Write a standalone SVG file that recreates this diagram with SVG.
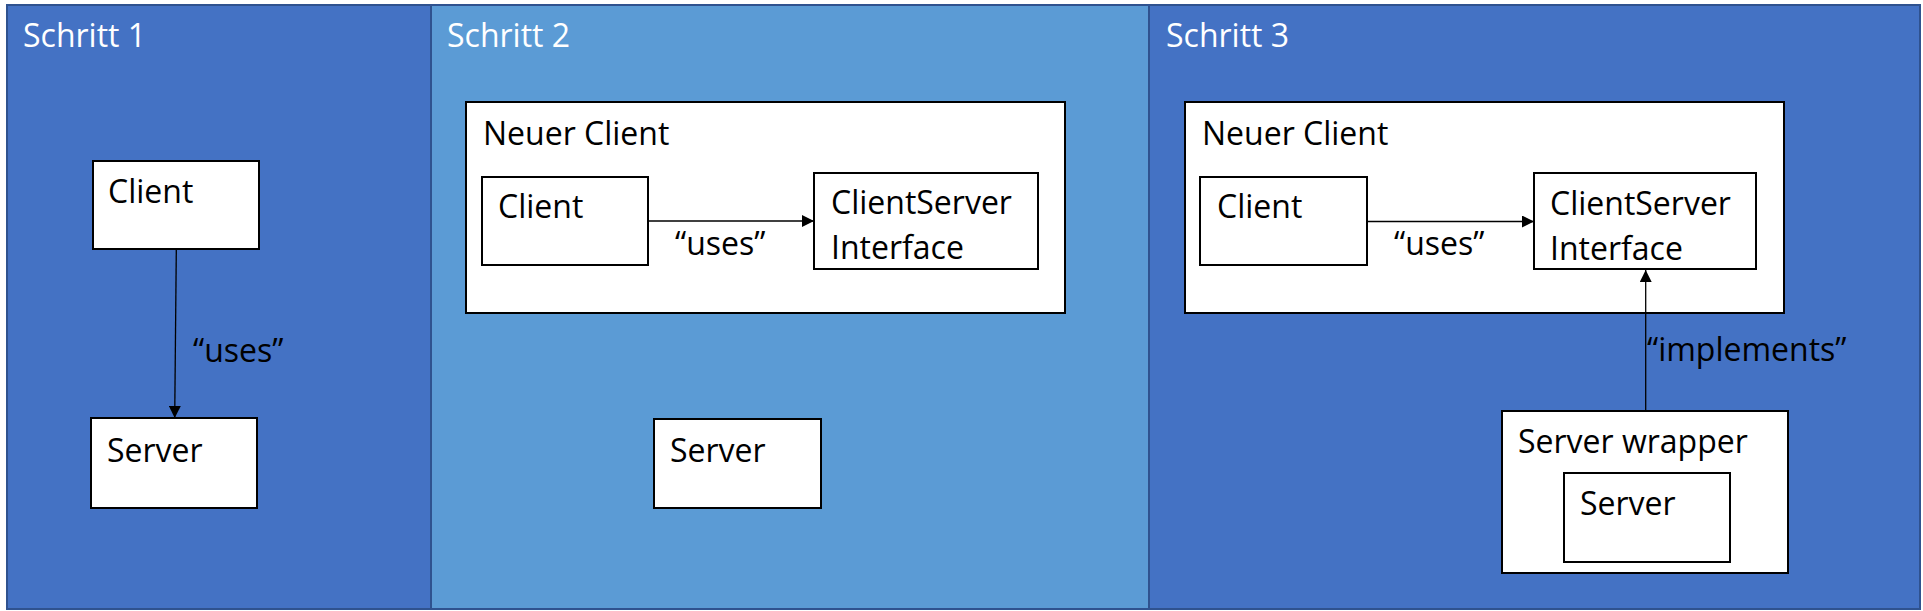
<svg xmlns="http://www.w3.org/2000/svg" width="1923" height="611" viewBox="0 0 1923 611">
<style>
.panel{stroke:#2F528F;stroke-width:2}
.p1{fill:#4472C4}.p2{fill:#5B9BD5}
.box{fill:#FFFFFF;stroke:#000000;stroke-width:2}
.t{font-family:"Open Sans","Noto Sans","Liberation Sans",sans-serif;font-size:32px;fill:#000000}
.title{fill:#FFFFFF}
.conn{stroke:#000000;stroke-width:1.3;fill:none}
</style>
<defs>
<marker id="arr" markerUnits="userSpaceOnUse" markerWidth="12" markerHeight="12" viewBox="0 0 12 12" refX="12" refY="6" orient="auto">
<path d="M0,0 L12,6 L0,12 Z" fill="#000000"/>
</marker>
</defs>
<g id="panel1">
<rect class="panel p1" x="7" y="5" width="424" height="604"/>
<text class="t title" x="23" y="47">Schritt 1</text>
</g>
<g id="panel2">
<rect class="panel p2" x="431" y="5" width="718" height="604"/>
<text class="t title" x="447" y="47">Schritt 2</text>
</g>
<g id="panel3">
<rect class="panel p1" x="1149" y="5" width="771" height="604"/>
<text class="t title" x="1166" y="47">Schritt 3</text>
</g>
<g id="s1-client">
<rect class="box" x="93" y="161" width="166" height="88"/>
<text class="t" x="108" y="203">Client</text>
</g>
<g id="s1-server">
<rect class="box" x="91" y="418" width="166" height="90"/>
<text class="t" x="107" y="462">Server</text>
</g>
<g id="s2-neuer-client">
<rect class="box" x="466" y="102" width="599" height="211"/>
<text class="t" x="483" y="145">Neuer Client</text>
</g>
<g id="s2-client">
<rect class="box" x="482" y="177" width="166" height="88"/>
<text class="t" x="498" y="218">Client</text>
</g>
<g id="s2-interface">
<rect class="box" x="814" y="173" width="224" height="96"/>
<text class="t" x="831" y="214">ClientServer</text>
<text class="t" x="831" y="259">Interface</text>
</g>
<g id="s2-server">
<rect class="box" x="654" y="419" width="167" height="89"/>
<text class="t" x="670" y="462">Server</text>
</g>
<g id="s3-neuer-client">
<rect class="box" x="1185" y="102" width="599" height="211"/>
<text class="t" x="1202" y="145">Neuer Client</text>
</g>
<g id="s3-client">
<rect class="box" x="1200" y="177" width="167" height="88"/>
<text class="t" x="1217" y="218">Client</text>
</g>
<g id="s3-interface">
<rect class="box" x="1534" y="173" width="222" height="96"/>
<text class="t" x="1550" y="215">ClientServer</text>
<text class="t" x="1550" y="260">Interface</text>
</g>
<g id="s3-server-wrapper">
<rect class="box" x="1502" y="411" width="286" height="162"/>
<text class="t" x="1518" y="453">Server wrapper</text>
</g>
<g id="s3-server">
<rect class="box" x="1564" y="473" width="166" height="89"/>
<text class="t" x="1580" y="515">Server</text>
</g>
<g id="connectors">
<line class="conn" x1="176.3" y1="250" x2="174.7" y2="418" marker-end="url(#arr)"/>
<text class="t" x="193" y="362">“uses”</text>
<line class="conn" x1="649" y1="221" x2="814" y2="221" marker-end="url(#arr)"/>
<text class="t" x="675" y="255">“uses”</text>
<line class="conn" x1="1368" y1="221.5" x2="1534" y2="221.5" marker-end="url(#arr)"/>
<text class="t" x="1394" y="255">“uses”</text>
<line class="conn" x1="1645.7" y1="410" x2="1645.7" y2="270" marker-end="url(#arr)"/>
<text class="t" x="1647" y="361">“implements”</text>
</g>
</svg>
